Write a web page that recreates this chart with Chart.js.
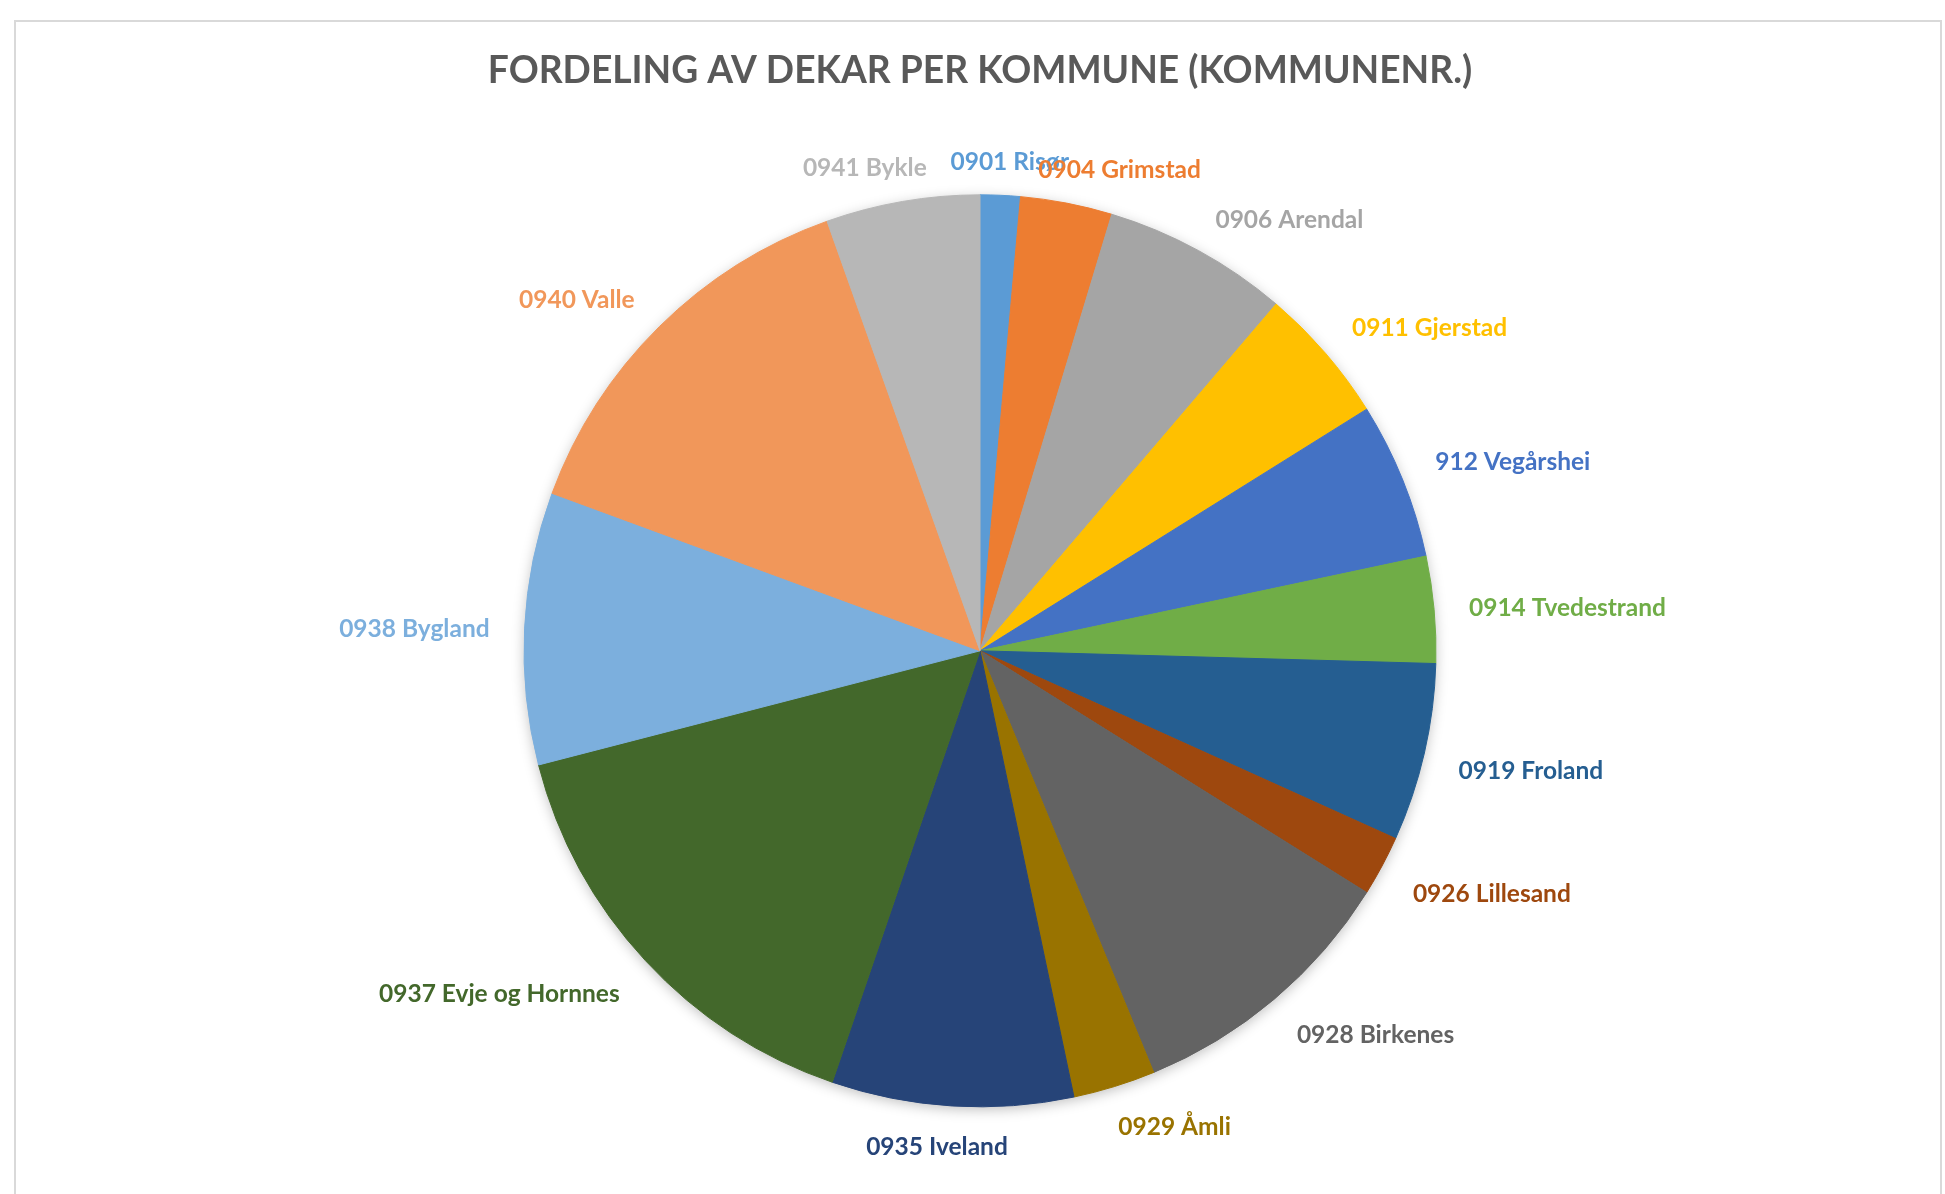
<!DOCTYPE html>
<html>
<head>
<meta charset="utf-8">
<script src="https://cdn.jsdelivr.net/npm/chart.js@4"></script>
<style>
    body { margin: 0; background: #fff; overflow: hidden; }
    #frame {
        position: absolute;
        left: 14px;
        top: 20px;
        width: 1928px;
        height: 1200px;
        border: 2px solid #d9d9d9;
        box-sizing: border-box;
    }
    #wrap { position: absolute; left: 0; top: 0; width: 1945px; height: 1194px; }
</style>
</head>
<body>
<div id="frame"></div>
<div id="wrap"><canvas id="pie-chart"></canvas></div>
<script>
const kommuner = [
    "0901 Risør", "0904 Grimstad", "0906 Arendal", "0911 Gjerstad",
    "912 Vegårshei", "0914 Tvedestrand", "0919 Froland", "0926 Lillesand",
    "0928 Birkenes", "0929 Åmli", "0935 Iveland", "0937 Evje og Hornnes",
    "0938 Bygland", "0940 Valle", "0941 Bykle",
];
const dekar = [
    1417, 3250, 6583, 4861, 5556, 3778, 6306, 2139,
    9889, 2917, 8556, 15722, 9639, 13944, 5444,
];
const farger = [
    "#5B9BD5", "#ED7D31", "#A5A5A5", "#FFC000", "#4472C4",
    "#70AD47", "#255E91", "#9E480E", "#636363", "#997300",
    "#264478", "#43682B", "#7CAFDD", "#F1975A", "#B7B7B7",
];

// soft shadow under the pie
const pieShadow = {
    id: "pieShadow",
    beforeDatasetsDraw(chart) {
        const arc = chart.getDatasetMeta(0).data[0];
        if (!arc) return;
        const p = arc.getProps(["x", "y", "outerRadius"], true);
        const ctx = chart.ctx;
        ctx.save();
        ctx.shadowColor = "rgba(0,0,0,0.28)";
        ctx.shadowBlur = 14;
        ctx.shadowOffsetY = 3;
        ctx.fillStyle = "#ffffff";
        ctx.beginPath();
        ctx.arc(p.x, p.y, p.outerRadius - 1, 0, Math.PI * 2);
        ctx.fill();
        ctx.restore();
    },
};

// labels outside the slices, in slice colour
const outsideLabels = {
    id: "outsideLabels",
    afterDatasetsDraw(chart) {
        const ctx = chart.ctx;
        const meta = chart.getDatasetMeta(0);
        ctx.save();
        ctx.font = "bold 24.5px Lato";
        ctx.textAlign = "center";
        ctx.textBaseline = "middle";
        const clamp = (v) => Math.max(-1, Math.min(1, v * 3));
        meta.data.forEach((arc, i) => {
            const p = arc.getProps(["x", "y", "startAngle", "endAngle", "outerRadius"], true);
            const mid = (p.startAngle + p.endAngle) / 2;
            const dx = Math.cos(mid);
            const dy = Math.sin(mid);
            const text = chart.data.labels[i];
            const w = ctx.measureText(text).width;
            const h = 25;
            const x = p.x + dx * (p.outerRadius + 35) + (clamp(dx) * w) / 2;
            const y = p.y + dy * (p.outerRadius + 25) + (clamp(dy) * h) / 2 + 4;
            ctx.fillStyle = farger[i];
            ctx.fillText(text, x, y);
        });
        ctx.restore();
    },
};

const ctx = document.getElementById("pie-chart").getContext("2d");
const myChart = new Chart(ctx, {
    type: "pie",
    data: {
        labels: kommuner,
        datasets: [
            {
                label: "Dekar",
                data: dekar,
                backgroundColor: farger,
                borderColor: farger,
                borderWidth: 1,
                radius: 456,
            },
        ],
    },
    options: {
        responsive: true,
        maintainAspectRatio: false,
        animation: false,
        layout: {
            padding: { left: 15, right: 0, top: 0, bottom: 0 },
        },
        plugins: {
            legend: { display: false },
            tooltip: { enabled: false },
            title: {
                display: true,
                text: "FORDELING AV DEKAR PER KOMMUNE (KOMMUNENR.)",
                color: "#595959",
                font: { family: "Lato", size: 37.2, weight: "bold", lineHeight: 1.2 },
                padding: { top: 49, bottom: 14 },
            },
        },
    },
    plugins: [pieShadow, outsideLabels],
});
</script>
</body>
</html>
